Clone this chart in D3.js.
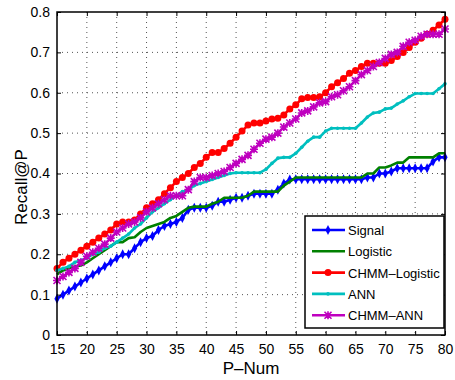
<!DOCTYPE html>
<html>
<head>
<meta charset="utf-8">
<script src="https://cdn.jsdelivr.net/npm/d3@7"></script>
<style>
  body { margin: 0; background: #fff; }
  text { font-family: "Liberation Sans", Arial, sans-serif; }
</style>
</head>
<body>
<div id="chart"></div>
<script>
// P-Num on the x axis, one point per integer
const pNum = [15,16,17,18,19,20,21,22,23,24,25,26,27,28,29,30,31,32,33,34,35,36,37,38,39,40,
  41,42,43,44,45,46,47,48,49,50,51,52,53,54,55,56,57,58,59,60,61,62,63,64,65,66,67,68,69,70,
  71,72,73,74,75,76,77,78,79,80];

const signal = [0.09,0.10,0.11,0.12,0.13,0.14,0.15,0.16,0.17,0.18,0.19,0.20,0.20,0.215,0.23,0.24,
  0.245,0.26,0.27,0.275,0.28,0.29,0.31,0.315,0.315,0.315,0.32,0.33,0.33,0.335,0.34,0.34,0.345,0.35,
  0.35,0.35,0.35,0.36,0.375,0.385,0.386,0.386,0.386,0.386,0.386,0.386,0.386,0.386,0.386,0.386,0.386,
  0.386,0.39,0.39,0.40,0.40,0.405,0.413,0.413,0.413,0.413,0.413,0.413,0.43,0.44,0.44];

const logistic = [0.15,0.16,0.165,0.17,0.172,0.18,0.19,0.20,0.21,0.22,0.23,0.23,0.24,0.242,0.255,
  0.265,0.27,0.275,0.28,0.29,0.295,0.305,0.315,0.318,0.318,0.318,0.325,0.33,0.34,0.34,0.34,0.34,0.345,
  0.355,0.355,0.355,0.355,0.355,0.37,0.38,0.39,0.39,0.39,0.39,0.39,0.39,0.39,0.39,0.39,0.39,0.39,0.39,
  0.40,0.40,0.415,0.415,0.42,0.427,0.427,0.44,0.44,0.44,0.44,0.44,0.45,0.45];

const chmmLogistic = [0.165,0.18,0.19,0.20,0.21,0.22,0.23,0.24,0.25,0.26,0.275,0.28,0.28,0.285,0.30,
  0.315,0.325,0.335,0.35,0.365,0.38,0.39,0.40,0.415,0.425,0.44,0.452,0.452,0.462,0.475,0.49,0.505,0.52,
  0.525,0.525,0.53,0.535,0.537,0.545,0.56,0.57,0.585,0.588,0.588,0.59,0.60,0.615,0.625,0.635,0.648,
  0.655,0.665,0.673,0.673,0.673,0.673,0.68,0.69,0.70,0.712,0.725,0.735,0.745,0.755,0.768,0.782];

const ann = [0.16,0.165,0.17,0.18,0.185,0.19,0.20,0.205,0.215,0.22,0.23,0.24,0.25,0.265,0.275,0.29,
  0.305,0.315,0.325,0.335,0.345,0.355,0.36,0.37,0.375,0.38,0.385,0.39,0.395,0.40,0.402,0.402,0.402,
  0.402,0.402,0.41,0.425,0.438,0.44,0.44,0.45,0.465,0.48,0.49,0.49,0.505,0.512,0.512,0.512,0.512,0.512,
  0.525,0.54,0.55,0.552,0.56,0.562,0.572,0.58,0.59,0.598,0.598,0.598,0.598,0.61,0.622];

const chmmAnn = [0.135,0.145,0.155,0.165,0.18,0.195,0.205,0.215,0.225,0.24,0.255,0.265,0.275,0.28,
  0.29,0.305,0.315,0.325,0.335,0.345,0.345,0.345,0.36,0.38,0.39,0.39,0.395,0.40,0.405,0.415,0.425,
  0.435,0.445,0.46,0.475,0.485,0.49,0.50,0.515,0.525,0.535,0.55,0.555,0.565,0.575,0.578,0.59,0.595,
  0.605,0.615,0.63,0.645,0.655,0.665,0.675,0.685,0.695,0.70,0.715,0.725,0.73,0.74,0.745,0.745,0.745,0.758];

const seriesNames = ['Signal', 'Logistic', 'CHMM-Logistic', 'ANN', 'CHMM-ANN'];
const seriesColors = ['#0000ff', '#008000', '#ff0000', '#00bfbf', '#bf00bf'];
const seriesMarkers = ['diamond', 'none', 'circle', 'dot', 'star'];
const xTicks = [15,20,25,30,35,40,45,50,55,60,65,70,75,80];
const yTicks = [0,0.1,0.2,0.3,0.4,0.5,0.6,0.7,0.8];

const allValues = [signal, logistic, chmmLogistic, ann, chmmAnn];
const series = seriesNames.map((name, i) => ({
  name: name,
  color: seriesColors[i],
  marker: seriesMarkers[i],
  values: pNum.map((p, j) => ({p: p, v: allValues[i][j]}))
}));

const width = 455, height = 380;
const margin = {top: 12, right: 10, bottom: 45, left: 57};
const innerW = width - margin.left - margin.right;
const innerH = height - margin.top - margin.bottom;

const x = d3.scaleLinear().domain([15, 80]).range([0, innerW]);
const y = d3.scaleLinear().domain([0, 0.8]).range([innerH, 0]);

const svg = d3.select('#chart').append('svg')
  .attr('width', width)
  .attr('height', height);

const chart = svg.append('g')
  .attr('transform', `translate(${margin.left},${margin.top})`);

// dotted grid
chart.append('g').selectAll('line')
  .data(xTicks.slice(1, -1))
  .enter().append('line')
  .attr('x1', d => x(d)).attr('x2', d => x(d))
  .attr('y1', 0).attr('y2', innerH)
  .attr('stroke', '#555').attr('stroke-width', 1).attr('stroke-dasharray', '1,4');

chart.append('g').selectAll('line')
  .data(yTicks.slice(1, -1))
  .enter().append('line')
  .attr('x1', 0).attr('x2', innerW)
  .attr('y1', d => y(d)).attr('y2', d => y(d))
  .attr('stroke', '#555').attr('stroke-width', 1).attr('stroke-dasharray', '1,4');

// lines
const line = d3.line().x(d => x(d.p)).y(d => y(d.v));

function addMarker(g, kind, color) {
  if (kind === 'circle') g.append('circle').attr('r', 3.5).attr('fill', color);
  else if (kind === 'dot') g.append('circle').attr('r', 1.8).attr('fill', color);
  else if (kind === 'diamond') g.append('path').attr('d', 'M0,-5L2.6,0L0,5L-2.6,0Z').attr('fill', color);
  else if (kind === 'star') g.append('path')
    .attr('d', 'M-3.5,-3.5L3.5,3.5M-3.5,3.5L3.5,-3.5M0,-4L0,4M-4,0L4,0')
    .attr('stroke', color).attr('stroke-width', 1.6);
}

series.forEach(s => {
  const g = chart.append('g');
  g.append('path')
    .datum(s.values)
    .attr('fill', 'none')
    .attr('stroke', s.color)
    .attr('stroke-width', 2.6)
    .attr('stroke-linejoin', 'round')
    .attr('d', line);
  g.selectAll('.m').data(s.values).enter().append('g')
    .attr('transform', d => `translate(${x(d.p)},${y(d.v)})`)
    .each(function () { addMarker(d3.select(this), s.marker, s.color); });
});

// axes, ticks inside on all four sides
chart.append('g')
  .attr('transform', `translate(0,${innerH})`)
  .call(d3.axisBottom(x).tickValues(xTicks).tickSizeInner(-4).tickSizeOuter(0).tickPadding(9))
  .call(g => g.selectAll('text').attr('font-size', 14).attr('fill', '#000'));

chart.append('g')
  .call(d3.axisLeft(y).tickValues(yTicks).tickFormat(d3.format('~g')).tickSizeInner(-4).tickSizeOuter(0).tickPadding(7))
  .call(g => g.selectAll('text').attr('font-size', 14).attr('fill', '#000'));

chart.append('g')
  .call(d3.axisTop(x).tickValues(xTicks).tickSizeInner(-4).tickSizeOuter(0).tickFormat(''));

chart.append('g')
  .attr('transform', `translate(${innerW},0)`)
  .call(d3.axisRight(y).tickValues(yTicks).tickSizeInner(-4).tickSizeOuter(0).tickFormat(''));

chart.selectAll('.domain').remove();
chart.selectAll('.tick line').attr('stroke', '#000');

chart.append('rect')
  .attr('width', innerW).attr('height', innerH)
  .attr('fill', 'none').attr('stroke', '#000').attr('stroke-width', 1.5);

// axis titles
svg.append('text')
  .attr('x', margin.left + innerW / 2)
  .attr('y', 374)
  .attr('text-anchor', 'middle')
  .attr('font-size', 17)
  .text('P\u2013Num');

svg.append('text')
  .attr('transform', 'translate(27,187) rotate(-90)')
  .attr('text-anchor', 'middle')
  .attr('font-size', 17)
  .text('Recall@P');

// legend
const legend = svg.append('g').attr('transform', 'translate(305,216)');
legend.append('rect')
  .attr('width', 139).attr('height', 112)
  .attr('fill', '#fff').attr('stroke', '#000').attr('stroke-width', 1.5);

const item = legend.selectAll('.item')
  .data(series)
  .enter().append('g')
  .attr('transform', (d, i) => `translate(0,${14 + i * 21.3})`);

item.append('line')
  .attr('x1', 7).attr('x2', 40)
  .attr('stroke', d => d.color).attr('stroke-width', 2.6);

item.each(function (d) {
  addMarker(d3.select(this).append('g').attr('transform', 'translate(23,0)'), d.marker, d.color);
});

item.append('text')
  .attr('x', 43)
  .attr('y', 5)
  .attr('font-size', 13)
  .text(d => d.name.replace('-', '\u2013'));
</script>
</body>
</html>
